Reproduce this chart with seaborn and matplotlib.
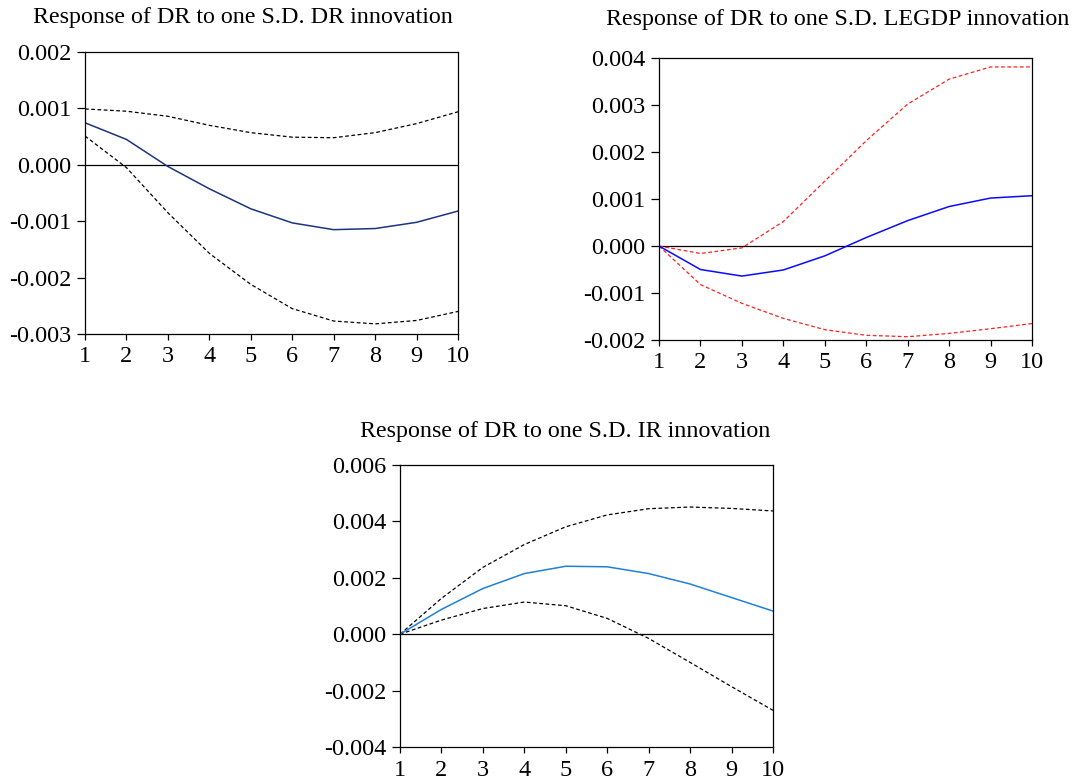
import matplotlib
matplotlib.use("Agg")
import matplotlib.pyplot as plt
import seaborn as sns
import pandas as pd

sns.set_theme(style="ticks")
plt.rcParams['font.family'] = ['Liberation Serif', 'DejaVu Serif']

periods = [1, 2, 3, 4, 5, 6, 7, 8, 9, 10]

dr_mid = [0.000745, 0.00045, -0.00003, -0.000425, -0.00078, -0.00103, -0.00115, -0.00113, -0.00102, -0.00082]
dr_up = [0.00099, 0.00095, 0.00086, 0.00070, 0.00057, 0.00049, 0.00048, 0.00057, 0.00073, 0.00094]
dr_lo = [0.00051, -0.00005, -0.00085, -0.00157, -0.00212, -0.00255, -0.00277, -0.00282, -0.00276, -0.00260]

gdp_mid = [0.0, -0.00050, -0.00064, -0.00051, -0.00021, 0.00018, 0.00054, 0.00084, 0.00102, 0.00107]
gdp_up = [0.0, -0.00016, -0.00004, 0.00052, 0.00138, 0.00224, 0.00302, 0.00355, 0.00381, 0.00381]
gdp_lo = [0.0, -0.00082, -0.00122, -0.00154, -0.00178, -0.00190, -0.00193, -0.00186, -0.00176, -0.00165]

ir_mid = [0.0, 0.00088, 0.00162, 0.00215, 0.00241, 0.00239, 0.00215, 0.00178, 0.00130, 0.00082]
ir_up = [0.0, 0.00127, 0.00237, 0.00318, 0.00381, 0.00423, 0.00445, 0.00451, 0.00446, 0.00437]
ir_lo = [0.0, 0.00050, 0.00091, 0.00114, 0.00101, 0.00056, -0.00015, -0.00100, -0.00186, -0.00270]

titles = ["Response of DR to one S.D. DR innovation",
          "Response of DR to one S.D. LEGDP innovation",
          "Response of DR to one S.D. IR innovation"]

W, H = 1073, 781
fig = plt.figure(figsize=(W / 100, H / 100), dpi=100)
fig.patch.set_facecolor("white")


def make_ax(l, r, t, b):
    return fig.add_axes([l / W, 1 - b / H, (r - l) / W, (b - t) / H])


panels = [
    dict(box=(85, 458, 52, 334), mid=dr_mid, up=dr_up, lo=dr_lo, mc="#1c3480", bc="black",
         ylim=(-0.003, 0.002), yt=[-0.003, -0.002, -0.001, 0.0, 0.001, 0.002], title_xy=(243, 17)),
    dict(box=(659, 1032, 58, 340), mid=gdp_mid, up=gdp_up, lo=gdp_lo, mc="#0a0aff", bc="#ff2020",
         ylim=(-0.002, 0.004), yt=[-0.002, -0.001, 0.0, 0.001, 0.002, 0.003, 0.004], title_xy=(838, 19)),
    dict(box=(400, 773, 465, 747), mid=ir_mid, up=ir_up, lo=ir_lo, mc="#2080d8", bc="black",
         ylim=(-0.004, 0.006), yt=[-0.004, -0.002, 0.0, 0.002, 0.004, 0.006], title_xy=(565, 432)),
]

for p, title in zip(panels, titles):
    ax = make_ax(*p["box"])
    ax.set_facecolor("white")
    df = pd.DataFrame({"period": periods, "mid": p["mid"], "up": p["up"], "lo": p["lo"]})
    ax.axhline(0, color="black", lw=0.9, zorder=1)
    sns.lineplot(data=df, x="period", y="up", ax=ax, color=p["bc"], lw=0.9, dashes=False,
                 linestyle=(0, (3, 2)))
    sns.lineplot(data=df, x="period", y="lo", ax=ax, color=p["bc"], lw=0.9, dashes=False,
                 linestyle=(0, (3, 2)))
    sns.lineplot(data=df, x="period", y="mid", ax=ax, color=p["mc"], lw=1.1)
    ax.set_xlim(1, 10)
    ax.set_ylim(*p["ylim"])
    ax.set_xticks(periods)
    ax.set_xticklabels([str(v) for v in periods])
    ax.set_yticks(p["yt"])
    ax.set_yticklabels([f"{v:.3f}".replace("-0.000", "0.000") for v in p["yt"]])
    ax.set_xlabel("")
    ax.set_ylabel("")
    for s in ax.spines.values():
        s.set_color("black")
        s.set_linewidth(0.9)
    ax.tick_params(axis="both", direction="out", labelsize=17.5, colors="black", width=0.9)
    ax.tick_params(axis="y", length=6, pad=4)
    ax.tick_params(axis="x", length=4, pad=5)
    ax.grid(False)
    tx, ty = p["title_xy"]
    fig.text(tx / W, 1 - ty / H, title, ha="center", va="center", fontsize=17.3, color="black")

fig.savefig("out.png", dpi=100, facecolor="white")
